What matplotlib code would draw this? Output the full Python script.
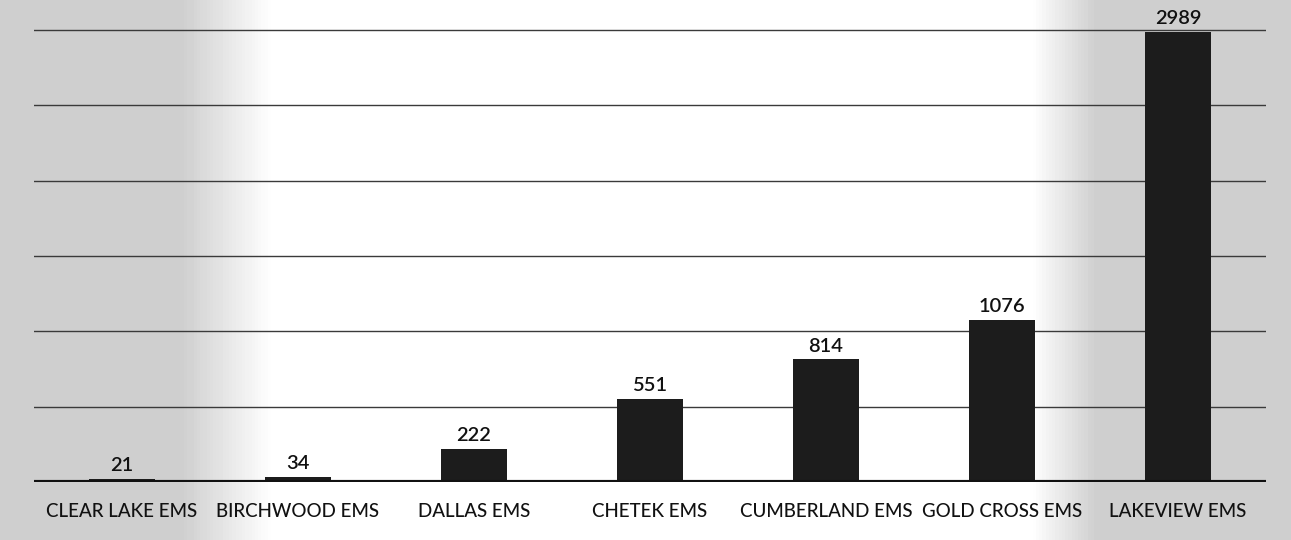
import matplotlib
matplotlib.use("Agg")
import matplotlib.pyplot as plt
import numpy as np

services = ["CLEAR LAKE EMS", "BIRCHWOOD EMS", "DALLAS EMS", "CHETEK EMS",
            "CUMBERLAND EMS", "GOLD CROSS EMS", "LAKEVIEW EMS"]
calls = [21, 34, 222, 551, 814, 1076, 2989]
grid_vals = [500, 1000, 1500, 2000, 2500, 3000]

plt.rcParams['font.family'] = ['Lato', 'DejaVu Sans']

fig = plt.figure(figsize=(12.91, 5.4), dpi=100)

# scanned paper look: grey on the sides, white in the middle
bg = fig.add_axes([0, 0, 1, 1], zorder=0)
xs = np.linspace(0, 1, 400)
shade = np.clip(np.maximum((0.21 - xs) / 0.07, (xs - 0.80) / 0.05), 0, 1)
img = 1 - 0.19 * shade
bg.imshow(np.tile(img, (10, 1)), cmap="gray", vmin=0, vmax=1, aspect="auto",
          extent=[0, 1, 0, 1])
bg.axis("off")

ax = fig.add_axes([34 / 1291, 58 / 540, 1232 / 1291, 482 / 540], zorder=1)
ax.patch.set_alpha(0)

x = np.arange(len(services))
ax.bar(x, calls, width=0.38, color="#1c1c1c", zorder=3)
for xi, v in zip(x, calls):
    ax.text(xi, v + 30, str(v), ha="center", va="bottom", fontsize=14.5,
            fontweight="semibold", color="#111111", zorder=4)

for g in grid_vals:
    ax.axhline(g, color="#3a3a3a", lw=1.0, zorder=1)
ax.axhline(0, color="#111111", lw=3, zorder=4)

ax.set_xlim(-0.5, 6.5)
ax.set_ylim(0, 3000 * 482 / 452)
ax.set_xticks(x)
ax.set_xticklabels(services, fontsize=13.5, fontweight="medium", color="#111111")
ax.tick_params(axis="x", length=0, pad=15)
ax.set_yticks([])
for s in ax.spines.values():
    s.set_visible(False)

fig.savefig("out.png", dpi=100)
